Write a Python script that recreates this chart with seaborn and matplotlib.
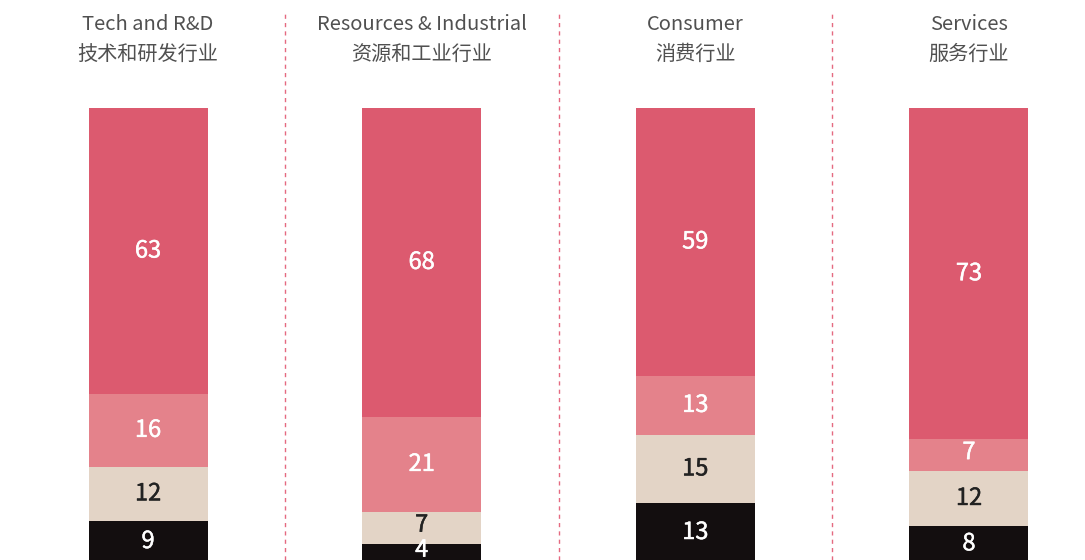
import matplotlib
matplotlib.use("Agg")
import matplotlib.pyplot as plt
import matplotlib.patheffects as pe
import numpy as np
import pandas as pd
import seaborn as sns

sectors = ["Tech and R&D", "Resources & Industrial", "Consumer", "Services"]
sectors_cn = ["技术和研发行业", "资源和工业行业", "消费行业", "服务行业"]
# segments from bottom to top
seg_black = [9, 4, 13, 8]
seg_beige = [12, 7, 15, 12]
seg_pink = [16, 21, 13, 7]
seg_red = [63, 68, 59, 73]

layers = [
    ("black", seg_black, "#130e0f", "white"),
    ("beige", seg_beige, "#e3d4c6", "#222222"),
    ("pink", seg_pink, "#e4828b", "white"),
    ("red", seg_red, "#dc5a6f", "white"),
]


def plot_stack():
    sns.set_style("white")
    plt.rcParams["font.family"] = ["Noto Sans CJK SC", "DejaVu Sans"]

    fig = plt.figure(figsize=(10.85, 5.6), dpi=100)
    ax = fig.add_axes([0, 0, 1, 1])

    vals = np.array([l[1] for l in layers], dtype=float)
    tops = np.cumsum(vals, axis=0)
    bottoms = tops - vals

    # draw cumulative totals from tallest to shortest so they overlap as a stack
    for i in range(len(layers) - 1, -1, -1):
        df = pd.DataFrame({"sector": sectors, "top": tops[i]})
        sns.barplot(data=df, x="sector", y="top", order=sectors,
                    color=layers[i][2], saturation=1, width=0.435,
                    linewidth=0, ax=ax)

    for i, (name, v, col, tcol) in enumerate(layers):
        for j in range(len(sectors)):
            yc = bottoms[i, j] + v[j] / 2
            if v[j] < 5:
                yc = max(yc, 2.6)
            elif v[j] < 8:
                yc += 0.6
            ax.text(j, yc, str(v[j]), ha="center", va="center",
                    fontsize=17, color=tcol,
                    path_effects=[pe.withStroke(linewidth=0.35, foreground=tcol)])

    for xs in [0.5, 1.5, 2.5]:
        ax.plot([xs, xs], [0.44, 121.2], ls=(0, (3, 3)), lw=1,
                color="#e56a80")

    for j in range(len(sectors)):
        ax.text(j, 0.956, sectors[j], transform=ax.get_xaxis_transform(),
                ha="center", va="center", fontsize=14.5, color="#505050")
        ax.text(j, 0.903, sectors_cn[j], transform=ax.get_xaxis_transform(),
                ha="center", va="center", fontsize=14.5, color="#505050")

    ax.set_xlim(-0.541, 3.424)
    ax.set_ylim(0.44, 123.8)
    ax.axis("off")
    fig.savefig("out.png", dpi=100)


def main():
    return plot_stack()


if __name__ == "__main__":
    main()
